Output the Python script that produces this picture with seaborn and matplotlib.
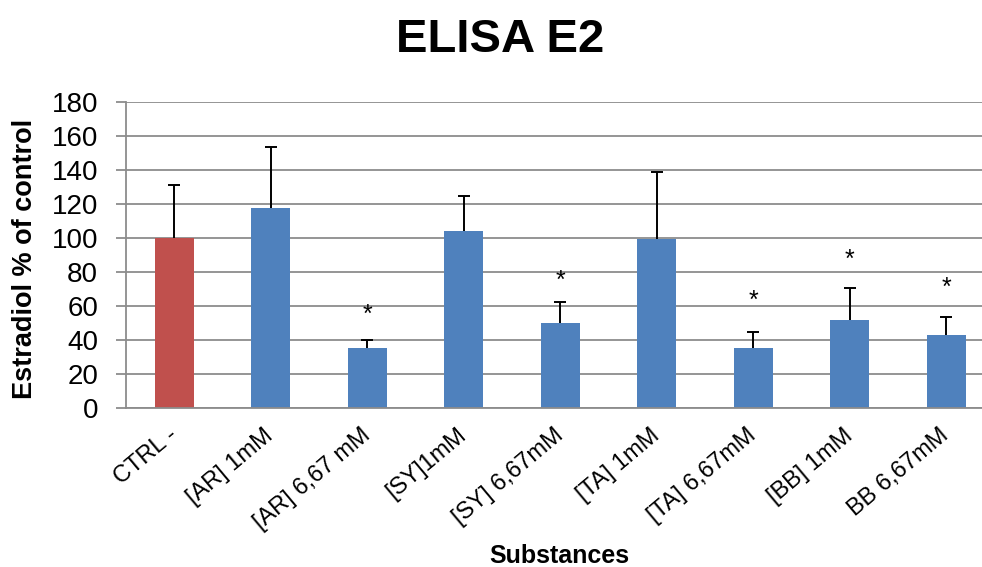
import matplotlib
matplotlib.use("Agg")
import matplotlib.pyplot as plt
import matplotlib.transforms as mtransforms
import seaborn as sns
import pandas as pd

categories = ["CTRL -", "[AR] 1mM", "[AR] 6,67 mM", "[SY]1mM", "[SY] 6,67mM",
              "[TA] 1mM", "[TA] 6,67mM", "[BB] 1mM", "BB 6,67mM"]
means = [100, 117.5, 35.4, 104.1, 49.9, 99.6, 35.2, 51.7, 42.7]
errors = [31.2, 36.1, 4.7, 20.5, 12.2, 39.3, 9.6, 19.0, 10.7]
stars = ["", "", "*", "", "*", "", "*", "*", "*"]
star_y = [0, 0, 59, 0, 79.5, 0, 67.4, 91.9, 75.4]
colors = ["#C0504D"] + ["#4F81BD"] * 8

sns.set_theme(style="white")
plt.rcParams["font.family"] = ["Liberation Sans", "DejaVu Sans"]
plt.rcParams["text.color"] = "black"
plt.rcParams["axes.labelcolor"] = "black"

df = pd.DataFrame({"cat": categories, "val": means})

fig = plt.figure(figsize=(9.82, 5.67), dpi=100)
ax = fig.add_axes([0.1283, 0.281, 0.8844, 0.5386])

sns.barplot(data=df, x="cat", y="val", hue="cat", palette=colors, legend=False,
            width=0.4, ax=ax, saturation=1, edgecolor="none", errorbar=None)

xs = list(range(len(categories)))
eb = ax.errorbar(xs, means, yerr=[[0] * len(errors), errors], fmt="none",
                 ecolor="black", elinewidth=1.4, capsize=4.3, capthick=1.4, zorder=3)
eb[1][0].set_visible(False)

for x, s, y in zip(xs, stars, star_y):
    if s:
        tr = mtransforms.offset_copy(ax.transData, fig=fig, x=0, y=-0.59 * 18, units="points")
        ax.text(x, y, s, fontsize=18, ha="center", va="baseline", transform=tr, color="black")

ax.set_ylim(0, 180)
ax.set_xlim(-0.5, len(categories) - 0.5)
ax.set_yticks(range(0, 181, 20))
ax.yaxis.grid(True, color="#8C8C8C", linewidth=1.3)
ax.set_axisbelow(True)
for side in ["top", "right"]:
    ax.spines[side].set_visible(False)
for side in ["left", "bottom"]:
    ax.spines[side].set_color("#8C8C8C")
    ax.spines[side].set_linewidth(1.3)

ax.tick_params(axis="y", which="both", left=True, length=7, width=1.3, color="#8C8C8C",
               labelsize=20, pad=13, labelcolor="black")
ax.tick_params(axis="x", bottom=False, labelsize=17, pad=12, labelcolor="black")
ax.set_xticks(xs)
ax.set_xticklabels(categories, rotation=40, ha="right", va="center", rotation_mode="anchor")
ax.set_xlabel("")
ax.set_ylabel("")

fig.text(0.509, (567 - 52) / 567, "ELISA E2", fontsize=34, fontweight="bold",
         ha="center", va="baseline", color="black")
fig.text(559 / 982, (567 - 563) / 567, "Substances", fontsize=18, fontweight="bold",
         ha="center", va="baseline", color="black")
fig.text(32 / 982, (567 - 258.5) / 567, "Estradiol % of control", fontsize=19.5,
         fontweight="bold", rotation=90, rotation_mode="anchor", ha="center",
         va="baseline", color="black")

fig.savefig("out.png", dpi=100)
